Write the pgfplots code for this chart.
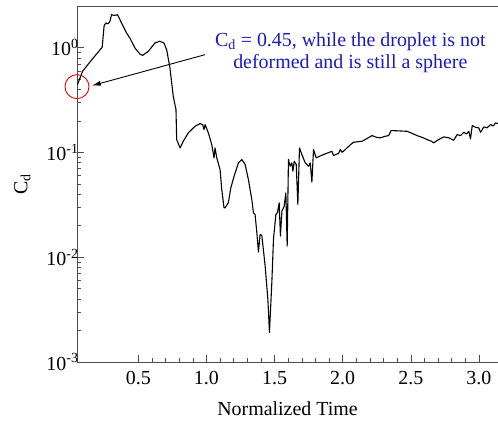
\documentclass[border=0pt]{standalone}
\usepackage{pgfplots}
\pgfplotsset{compat=1.18}
\usepackage{fontspec}
\setmainfont{Liberation Serif}
\usetikzlibrary{arrows.meta}

\definecolor{annblue}{RGB}{25,25,190}
\newcommand{\fs}{\fontsize{20}{22}\selectfont}

\begin{document}
\begin{tikzpicture}

  \begin{axis}[
    scale only axis,
    width = 421bp,
    height = 356bp,
    ymode = log,
    xmin = 0.05,
    xmax = 3.14,
    ymin = 1e-3,
    ymax = 2.5,
    axis x line* = bottom,
    axis y line* = left,
    axis line style = {-, draw=black!70, line width=0.8pt},
    tick align = inside,
    tick style = {draw=black!70, line width=0.6pt},
    major tick length = 7bp,
    minor tick length = 4bp,
    xtick = {0.5,1.0,1.5,2.0,2.5,3.0},
    xticklabels = {0.5,1.0,1.5,2.0,2.5,3.0},
    minor x tick num = 4,
    ytick = {1e-3,1e-2,1e-1,1},
    yticklabels = {10\textsuperscript{-3},10\textsuperscript{-2},10\textsuperscript{-1},10\textsuperscript{0}},
    ticklabel style = {font=\fs},
    xticklabel style = {yshift=-6bp},
    yticklabel style = {xshift=5bp},
    label style = {font=\fs},
    xlabel = {Normalized Time},
    xlabel style = {yshift=-10bp},
    ylabel = {C\textsubscript{d}},
    ylabel style = {yshift=9bp},
    clip = false,
  ]

\coordinate (bl) at (rel axis cs:0,0);
\draw[black!70, line width=0.8pt] (rel axis cs:0,1) -- (rel axis cs:1,1);

\addplot[black, line width=1.1pt, line join=round] coordinates{
(0.0537,0.444)
(0.0904,0.594)
(0.159,0.769)
(0.2346,1.007)
(0.249,1.621)
(0.2618,1.720)
(0.2787,1.693)
(0.2912,1.781)
(0.3037,2.064)
(0.3228,2.032)
(0.3478,2.064)
(0.3772,1.720)
(0.414,1.381)
(0.4382,1.237)
(0.475,0.993)
(0.5118,0.871)
(0.5316,0.845)
(0.5728,0.922)
(0.622,1.109)
(0.657,1.153)
(0.688,1.109)
(0.708,0.957)
(0.732,0.645)
(0.7566,0.343)
(0.7765,0.2564)
(0.7816,0.1327)
(0.806,0.1106)
(0.830,0.1279)
(0.867,0.1538)
(0.916,0.1777)
(0.953,0.1886)
(0.973,0.1845)
(0.982,0.1653)
(0.990,0.1845)
(1.014,0.1538)
(1.039,0.119)
(1.056,0.0888)
(1.063,0.1106)
(1.076,0.0888)
(1.100,0.0687)
(1.1125,0.0443)
(1.129,0.0296)
(1.136,0.0296)
(1.161,0.0331)
(1.179,0.0460)
(1.203,0.0593)
(1.2346,0.0796)
(1.2596,0.0856)
(1.284,0.0767)
(1.308,0.0552)
(1.333,0.0356)
(1.345,0.0266)
(1.357,0.0256)
(1.370,0.01713)
(1.3816,0.0112)
(1.394,0.0165)
(1.4066,0.01614)
(1.431,0.00823)
(1.451,0.00396)
(1.4625,0.00191)
(1.480,0.00571)
(1.492,0.01478)
(1.5096,0.0256)
(1.521,0.0266)
(1.534,0.0331)
(1.543,0.0159)
(1.554,0.0275)
(1.5706,0.0307)
(1.583,0.0412)
(1.5926,0.01276)
(1.602,0.0856)
(1.6147,0.0739)
(1.627,0.0796)
(1.6346,0.0662)
(1.644,0.0824)
(1.659,0.0767)
(1.671,0.0319)
(1.683,0.1106)
(1.7007,0.0955)
(1.725,0.0796)
(1.749,0.0739)
(1.762,0.0796)
(1.774,0.052)
(1.786,0.1066)
(1.806,0.0888)
(1.830,0.092)
(1.8596,0.0955)
(1.890,0.0990)
(1.921,0.1026)
(1.933,0.0934)
(1.950,0.0960)
(1.970,0.0976)
(1.982,0.1066)
(1.995,0.1005)
(2.010,0.1040)
(2.032,0.1106)
(2.055,0.1180)
(2.080,0.1251)
(2.110,0.1265)
(2.142,0.1279)
(2.175,0.1350)
(2.215,0.1449)
(2.245,0.1400)
(2.276,0.1378)
(2.305,0.1420)
(2.3375,0.1449)
(2.355,0.1617)
(2.400,0.1610)
(2.440,0.1600)
(2.473,0.1592)
(2.510,0.1520)
(2.546,0.1449)
(2.585,0.1390)
(2.620,0.1327)
(2.6515,0.1279)
(2.668,0.1235)
(2.705,0.1330)
(2.742,0.1409)
(2.780,0.1380)
(2.815,0.1307)
(2.840,0.1482)
(2.865,0.1450)
(2.889,0.1558)
(2.910,0.1500)
(2.926,0.1592)
(2.938,0.1348)
(2.951,0.1805)
(2.975,0.1740)
(2.999,0.1716)
(3.012,0.1558)
(3.036,0.1754)
(3.060,0.1720)
(3.0853,0.1845)
(3.105,0.1790)
(3.1225,0.1915)
(3.140,0.1886)
};

\draw[red!90!black, line width=0.9pt] (axis cs:0.05,0.425) circle[radius=12bp];
\draw[black, line width=0.9pt, -{Latex[length=9bp,width=5bp]}]
  (axis cs:0.990,0.858) -- (axis cs:0.159,0.434);
\node[font=\fs, text=annblue, align=center, anchor=center]
  at (axis cs:2.056,0.89)
  {C\textsubscript{d} = 0.45, while the droplet is not\\deformed and is still a sphere};

\end{axis}

\pgfresetboundingbox
\path[use as bounding box] (bl) ++(-77bp,-59bp) rectangle ++(498bp,421bp);

\end{tikzpicture}
\end{document}
